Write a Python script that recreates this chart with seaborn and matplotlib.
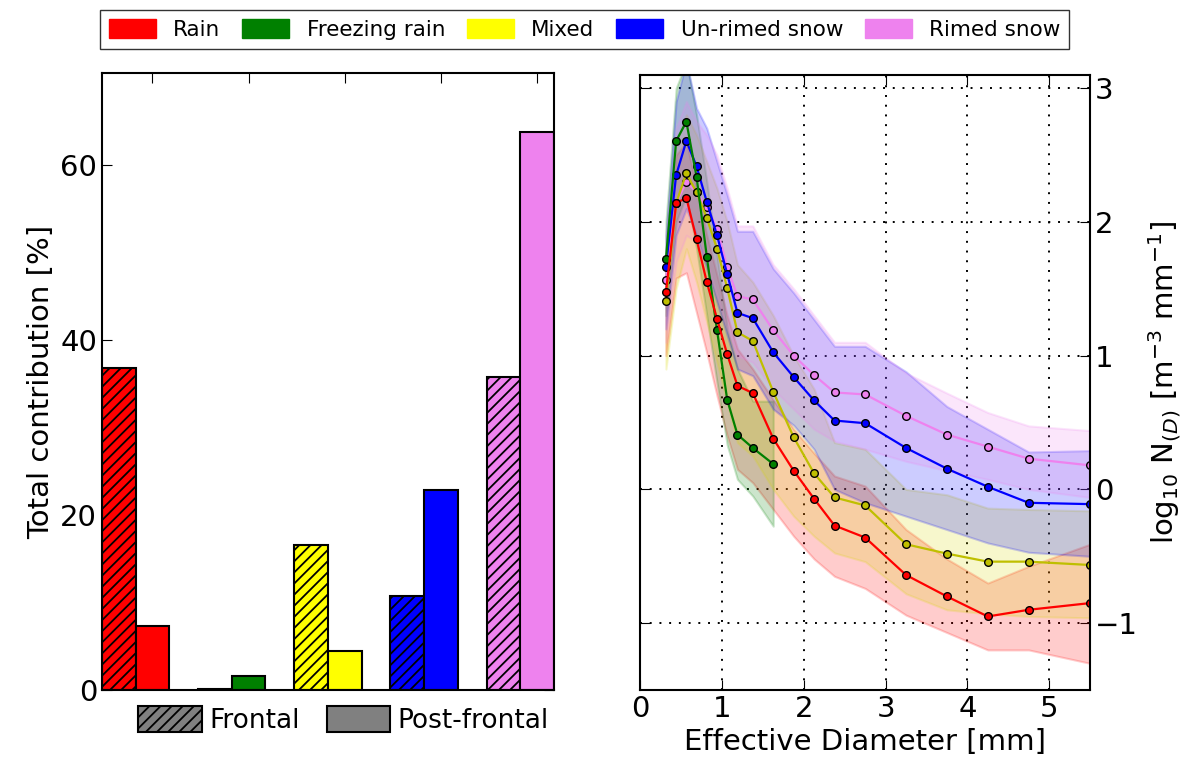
import numpy as np
import pandas as pd
import matplotlib
matplotlib.use("Agg")
import matplotlib.pyplot as plt
from matplotlib.patches import Patch
import seaborn as sns

# ---- data -------------------------------------------------------------
categories = ["Rain", "Freezing rain", "Mixed", "Un-rimed snow", "Rimed snow"]
bar_colors = ["red", "green", "yellow", "blue", "violet"]
line_colors = ["red", "green", "#bfbf00", "blue", "violet"]

frontal = [36.8, 0.1, 16.6, 10.7, 35.8]
post_frontal = [7.3, 1.6, 4.5, 22.9, 63.8]

# Parsivel class centres [mm]
diam = [0.312, 0.437, 0.562, 0.687, 0.812, 0.937, 1.062, 1.187, 1.375, 1.625,
        1.875, 2.125, 2.375, 2.75, 3.25, 3.75, 4.25, 4.75, 5.5]

rain_nd = [1.475, 2.14, 2.18, 1.87, 1.55, 1.275, 1.01, 0.775, 0.72, 0.38,
           0.14, -0.07, -0.27, -0.36, -0.64, -0.80, -0.95, -0.90, -0.85]
rain_lo = [1.0, 1.58, 1.62, 1.32, 1.02, 0.7, 0.4, 0.15, 0.05, -0.15,
           -0.35, -0.52, -0.65, -0.74, -0.94, -1.07, -1.2, -1.2, -1.3]
rain_hi = [1.7, 2.5, 2.6, 2.25, 1.9, 1.6, 1.3, 1.05, 0.9, 0.67,
           0.45, 0.27, 0.1, 0.025, -0.3, -0.52, -0.7, -0.575, -0.41]

frz_nd = [1.725, 2.605, 2.75, 2.335, 1.74, 1.19, 0.67, 0.41, 0.31, 0.19]
frz_lo = [1.3, 2.0, 2.2, 1.8, 1.3, 0.8, 0.33, 0.075, -0.05, -0.275]
frz_hi = [2.0, 3.0, 3.2, 2.8, 2.3, 1.75, 1.2, 0.9, 0.66, 0.66]

mix_nd = [1.41, 2.14, 2.365, 2.22, 2.03, 1.80, 1.505, 1.175, 1.11, 0.73,
          0.39, 0.12, -0.06, -0.12, -0.41, -0.48, -0.54, -0.54, -0.565]
mix_lo = [0.9, 1.5, 1.8, 1.55, 1.25, 0.95, 0.65, 0.35, 0.25, 0.0,
          -0.2, -0.35, -0.475, -0.54, -0.78, -0.9, -0.93, -0.95, -0.96]
mix_hi = [1.6, 2.6, 2.8, 2.65, 2.45, 2.25, 2.0, 1.68, 1.55, 1.3,
          1.0, 0.75, 0.35, 0.3, 0.0, -0.04, -0.14, -0.15, -0.16]

snow_nd = [1.665, 2.35, 2.605, 2.415, 2.15, 1.90, 1.61, 1.32, 1.28, 1.025,
           0.84, 0.665, 0.515, 0.495, 0.31, 0.155, 0.02, -0.10, -0.11]
snow_lo = [1.2, 1.9, 2.1, 1.9, 1.65, 1.4, 1.15, 0.9, 0.85, 0.6,
           0.48, 0.3, 0.0, -0.1, -0.2, -0.3, -0.4, -0.47, -0.5]
snow_hi = [1.9, 2.9, 3.2, 2.85, 2.7, 2.45, 2.2, 1.93, 1.93, 1.65,
           1.47, 1.27, 1.07, 1.07, 0.88, 0.62, 0.45, 0.28, 0.29]

rimed_nd = [1.565, 2.14, 2.30, 2.22, 2.11, 1.95, 1.66, 1.445, 1.42, 1.19,
            1.0, 0.855, 0.725, 0.71, 0.55, 0.41, 0.32, 0.23, 0.18]
rimed_lo = [1.1, 1.7, 1.9, 1.85, 1.7, 1.45, 1.2, 1.0, 0.95, 0.75,
            0.6, 0.45, 0.36, 0.3, 0.21, 0.14, 0.075, 0.0, -0.06]
rimed_hi = [1.9, 2.7, 2.9, 2.75, 2.65, 2.5, 2.25, 1.97, 1.97, 1.68,
            1.5, 1.3, 1.1, 1.1, 0.87, 0.72, 0.575, 0.475, 0.44]

series = [
    (rain_nd, rain_lo, rain_hi),
    (frz_nd, frz_lo, frz_hi),
    (mix_nd, mix_lo, mix_hi),
    (snow_nd, snow_lo, snow_hi),
    (rimed_nd, rimed_lo, rimed_hi),
]
# markers of rimed snow sit underneath, rain on top
draw_order = [4, 2, 3, 1, 0]

# ---- style ------------------------------------------------------------
sns.set_style("ticks")
plt.rcParams["font.family"] = ["DejaVu Sans"]
plt.rcParams.update({
    "xtick.direction": "in", "ytick.direction": "in",
    "xtick.top": True, "ytick.right": True,
    "xtick.major.size": 7, "ytick.major.size": 7,
    "axes.linewidth": 1.5, "hatch.linewidth": 1.3,
    "axes.edgecolor": "black", "text.color": "black",
    "axes.labelcolor": "black", "xtick.color": "black", "ytick.color": "black",
})

fig = plt.figure(figsize=(11.86, 7.71), dpi=100)
ax1 = fig.add_axes([0.086, 0.105, 0.381, 0.800])
ax2 = fig.add_axes([0.540, 0.105, 0.379, 0.798])

# ---- left: bar chart --------------------------------------------------
df = pd.DataFrame({
    "category": categories * 2,
    "value": frontal + post_frontal,
    "regime": ["Frontal"] * 5 + ["Post-frontal"] * 5,
})
sns.barplot(data=df, x="category", y="value", hue="regime", ax=ax1,
            width=0.7, errorbar=None, legend=False, gap=0)
for k, cont in enumerate(ax1.containers):
    for i, bar in enumerate(cont):
        bar.set_facecolor(bar_colors[i])
        bar.set_edgecolor("black")
        bar.set_linewidth(1.5)
        if k == 0:
            bar.set_hatch("///")

ax1.set_xlim(-0.35, 4.35)
ax1.set_ylim(0, 70.5)
ax1.set_xticks(np.arange(5) + 0.175)
ax1.set_xticklabels([])
ax1.set_xlabel("")
ax1.set_yticks([0, 20, 40, 60])
ax1.set_ylabel("Total contribution [%]", fontsize=21)
ax1.tick_params(axis="y", labelsize=21)

reg_handles = [Patch(facecolor="gray", edgecolor="black", hatch="///", linewidth=1.5),
               Patch(facecolor="gray", edgecolor="black", linewidth=1.5)]
ax1.legend(reg_handles, ["Frontal", "Post-frontal"], loc="upper center",
           bbox_to_anchor=(0.535, 0.012), ncol=2, frameon=False, fontsize=19,
           handlelength=2.4, handleheight=1.1, columnspacing=1.0,
           handletextpad=0.3)

# ---- right: size distributions ----------------------------------------
for (nd, lo, hi), c in zip(series, bar_colors):
    x = diam[:len(nd)]
    fill_c = c if c != "yellow" else "#d8d800"
    ax2.fill_between(x, lo, hi, color=fill_c, alpha=0.2, lw=1.5,
                     edgecolor=fill_c)
for k in draw_order:
    nd = series[k][0]
    lc = line_colors[k]
    sns.lineplot(x=diam[:len(nd)], y=nd, ax=ax2, color=lc, lw=1.6,
                 marker="o", markersize=5.5, markeredgecolor="black",
                 markeredgewidth=1, markerfacecolor=lc)

ax2.set_xlim(0, 5.5)
ax2.set_ylim(-1.5, 3.1)
ax2.set_xticks([0, 1, 2, 3, 4, 5])
ax2.set_yticks([-1, 0, 1, 2, 3])
ax2.grid(True, color="black", linestyle=(0, (1, 4)), linewidth=1.4)
ax2.yaxis.tick_right()
ax2.yaxis.set_label_position("right")
ax2.tick_params(axis="both", labelsize=21, left=True, right=True)
ax2.set_xlabel("Effective Diameter [mm]", fontsize=21)
ax2.set_ylabel(r"log$_{10}$ N$_{(D)}$ [m$^{-3}$ mm$^{-1}$]", fontsize=21,
               labelpad=6)

# ---- top legend -------------------------------------------------------
cat_handles = [Patch(facecolor=c, edgecolor=c) for c in bar_colors]
fig.legend(cat_handles, categories, loc="upper center", ncol=5,
           bbox_to_anchor=(0.493, 0.995), fontsize=15.5, frameon=True,
           fancybox=False, edgecolor="black", handlelength=2.2,
           handleheight=1.0, columnspacing=1.0, handletextpad=0.8,
           borderaxespad=0.3, borderpad=0.4)

fig.savefig("out.png", dpi=100, facecolor="white")
